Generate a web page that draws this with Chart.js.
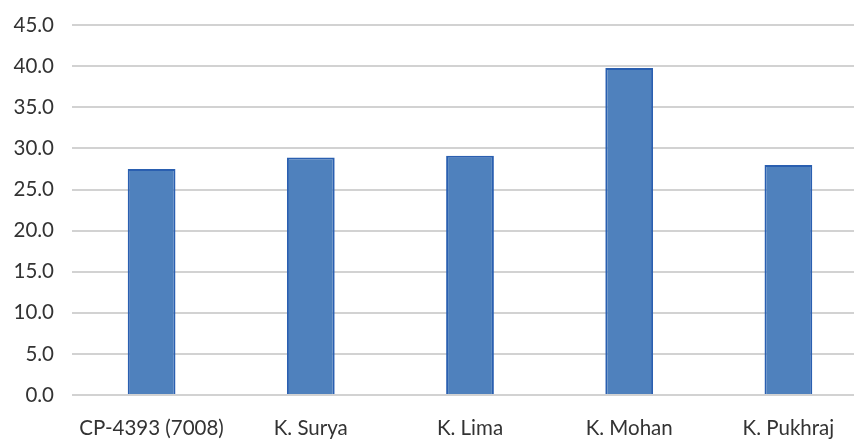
<!DOCTYPE html>
<html>
<head>
<meta charset="utf-8">
<script src="https://cdn.jsdelivr.net/npm/chart.js@4"></script>
<style>
  html, body { margin: 0; padding: 0; background: #fff; overflow: hidden; }
  #wrap { width: 868px; height: 441px; }
</style>
</head>
<body>
<div id="wrap"><canvas id="myChart"></canvas></div>
<script>
// values
var varieties = ['CP-4393 (7008)', 'K. Surya', 'K. Lima', 'K. Mohan', 'K. Pukhraj'];
var values = [27.5, 28.9, 29.1, 39.8, 28.0];
var yMax = 45;
var yStep = 5;

var ctx = document.getElementById('myChart').getContext('2d');
var myChart = new Chart(ctx, {
  type: 'bar',
  data: {
    labels: varieties,
    datasets: [{
      data: values,
      backgroundColor: '#4f81bd',
      borderColor: '#2a5fb0',
      borderWidth: 2,
      barPercentage: 0.3,
      categoryPercentage: 1
    }]
  },
  options: {
    responsive: true,
    maintainAspectRatio: false,
    animation: false,
    layout: { padding: { top: 0, right: 0, left: 0, bottom: 0 } },
    plugins: { legend: { display: false }, tooltip: { enabled: false } },
    scales: {
      x: {
        grid: { display: false },
        border: { display: false },
        ticks: { color: '#333333', font: { family: 'Lato', size: 20.5 }, padding: 13, maxRotation: 0 },
        afterFit: function(scale) { scale.height = 46; }
      },
      y: {
        min: 0,
        max: yMax,
        border: { display: false },
        grid: { color: '#d2d2d2', lineWidth: 2, drawTicks: false },
        ticks: {
          stepSize: yStep,
          color: '#333333',
          font: { family: 'Lato', size: 20.5, lineHeight: 0.7 },
          padding: 18,
          callback: function(v) { return v.toFixed(1); }
        },
        afterFit: function(scale) { scale.width = 72; }
      }
    }
  }
});
</script>
</body>
</html>
